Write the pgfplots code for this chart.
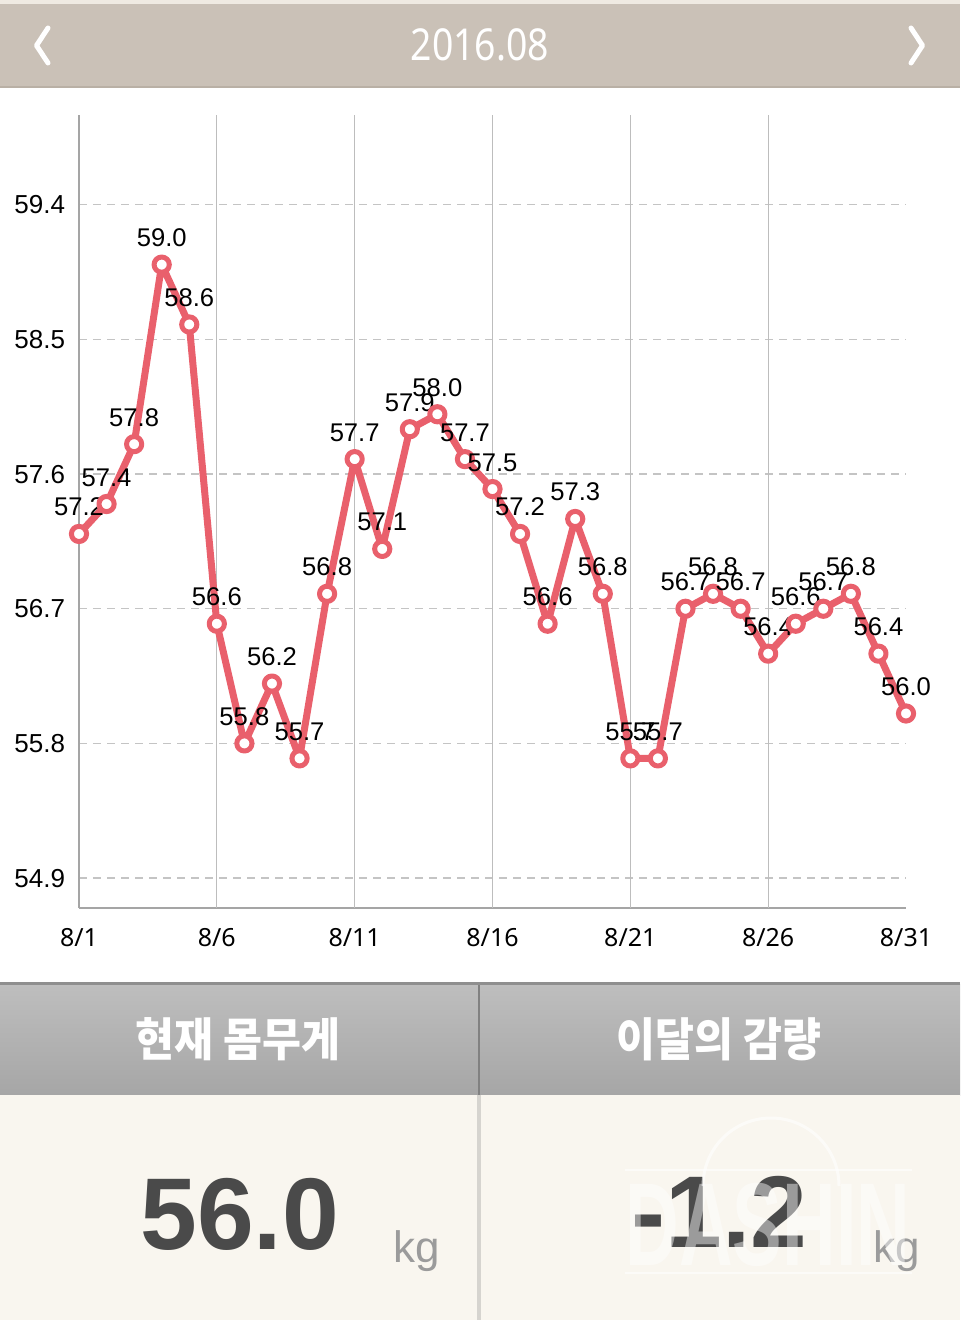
\documentclass[border=0pt]{standalone}
\usepackage{fontspec}
\setmainfont{Liberation Sans}
\newfontfamily\droid{Noto Sans}
\newfontfamily\kr{Noto Sans CJK KR}
\usepackage{graphicx}
\usepackage{pgfplots}
\pgfplotsset{compat=1.18}

\definecolor{hdr}{HTML}{CAC1B7}
\definecolor{hdrtop}{HTML}{EFEAE2}
\definecolor{hdrline}{HTML}{B9B0A5}
\definecolor{wline}{HTML}{E9606C}
\definecolor{vgrid}{HTML}{BDBDBD}
\definecolor{hgrid}{HTML}{C4C4C4}
\definecolor{axline}{HTML}{A5A5A5}
\definecolor{tabtop}{HTML}{BEBEBE}
\definecolor{tabbot}{HTML}{A6A6A6}
\definecolor{tabline}{HTML}{8F8F8F}
\definecolor{cream}{HTML}{F9F6EF}
\definecolor{creamline}{HTML}{D6D4CF}
\definecolor{bignum}{HTML}{4A4A4A}
\definecolor{unit}{HTML}{9B9B9B}

% weight per day, August 2016
\pgfplotstableread{
day w
1  57.2
2  57.4
3  57.8
4  59.0
5  58.6
6  56.6
7  55.8
8  56.2
9  55.7
10 56.8
11 57.7
12 57.1
13 57.9
14 58.0
15 57.7
16 57.5
17 57.2
18 56.6
19 57.3
20 56.8
21 55.7
22 55.7
23 56.7
24 56.8
25 56.7
26 56.4
27 56.6
28 56.7
29 56.8
30 56.4
31 56.0
}\weight

\begin{document}
\begin{tikzpicture}
% page laid out in screen pixels, y pointing down
\begin{scope}[x=0.5pt,y=-0.5pt]
  \useasboundingbox (0,0) rectangle (960,1320);
  \fill[white] (0,0) rectangle (960,1320);
  \fill[hdrtop] (0,0) rectangle (960,4);
  \fill[hdr] (0,4) rectangle (960,86);
  \fill[hdrline] (0,86) rectangle (960,88);
  \draw[white, line width=2.5pt, line cap=round, line join=round] (48,28) -- (36.5,45.5) -- (48,63);
  \draw[white, line width=2.5pt, line cap=round, line join=round] (911,28) -- (922.5,45.5) -- (911,63);
  \node[white, inner sep=0pt] at (480,45) {\scalebox{0.85}[1]{\droid\fontsize{22}{22}\selectfont 2016.08}};
\end{scope}

\begin{axis}[
  at={(39.5pt,-454pt)}, anchor=south west,
  scale only axis, width=413.5pt, height=396.5pt,
  xmin=1, xmax=31, ymin=54.7, ymax=60.0,
  clip=false,
  axis x line*=bottom, axis y line*=left,
  axis line style={-, draw=axline, line width=0.6pt},
  major tick length=0pt,
  xtick={1,6,11,16,21,26,31},
  xticklabels={8/1,8/6,8/11,8/16,8/21,8/26,8/31},
  xticklabel style={font=\droid\fontsize{12.5}{12.5}\selectfont, anchor=north, inner sep=0pt, yshift=-10pt},
  extra x ticks={6,11,16,21,26},
  extra x tick labels={},
  extra x tick style={grid=major},
  x grid style={solid, draw=vgrid, line width=0.6pt},
  ytick={54.9,55.8,56.7,57.6,58.5,59.4},
  ymajorgrids,
  y grid style={draw=hgrid, line width=0.6pt, dash pattern=on 4pt off 3pt},
  /pgf/number format/assume math mode=true,
  yticklabel style={font=\fontsize{13}{13}\selectfont, anchor=west, inner sep=0pt, xshift=-32.5pt,
    /pgf/number format/.cd, fixed, fixed zerofill, precision=1},
  point meta=y,
  nodes near coords={\pgfmathprintnumber[fixed,fixed zerofill,precision=1]{\pgfplotspointmeta}},
  every node near coord/.append style={font=\fontsize{12.8}{12.8}\selectfont, text=black,
    anchor=base, inner sep=0pt, yshift=9pt},
]
\addplot[wline, line width=3.5pt, line join=round, mark=*, mark size=3.8pt,
  mark options={fill=white, draw=wline, line width=2.5pt}]
  table[x=day, y=w]{\weight};
\end{axis}

\begin{scope}[x=0.5pt,y=-0.5pt]
  % summary panels
  \shade[top color=tabtop, bottom color=tabbot] (0,984) rectangle (960,1095);
  \fill[tabline] (0,982) rectangle (960,985);
  \fill[tabline!90!black] (478,985) rectangle (480,1095);
  \fill[cream] (0,1095) rectangle (960,1320);
  \fill[creamline] (477,1095) rectangle (481,1320);
  \node[white, inner sep=0pt] at (238,1039) {\scalebox{0.92}[1]{\kr\bfseries\fontsize{23}{23}\selectfont 현재 몸무게}};
  \node[white, inner sep=0pt] at (719,1039) {\scalebox{0.92}[1]{\kr\bfseries\fontsize{23}{23}\selectfont 이달의 감량}};
  \node[anchor=base west, inner sep=0pt, text=bignum] at (140,1249) {\bfseries\fontsize{51}{51}\selectfont 56.0};
  \node[anchor=base west, inner sep=0pt, text=unit] at (393,1262) {\fontsize{22}{22}\selectfont kg};
  \node[anchor=base west, inner sep=0pt, text=bignum] at (631,1247) {\bfseries\fontsize{51}{51}\selectfont -1.2};
  \node[anchor=base west, inner sep=0pt, text=unit] at (873,1262) {\fontsize{22}{22}\selectfont kg};
  % faint watermark
  \draw[white, opacity=0.6, line width=1.5pt] (703,1186) arc[start angle=180, end angle=360, radius=68];
  \draw[white, opacity=0.6, line width=1pt] (625,1170) -- (912,1170);
  \draw[white, opacity=0.6, line width=1pt] (625,1273) -- (912,1273);
  \node[white, opacity=0.45, inner sep=0pt, anchor=base] at (768,1265)
    {\scalebox{0.63}[1]{\bfseries\fontsize{59}{59}\selectfont DASHIN}};
\end{scope}
\end{tikzpicture}
\end{document}
